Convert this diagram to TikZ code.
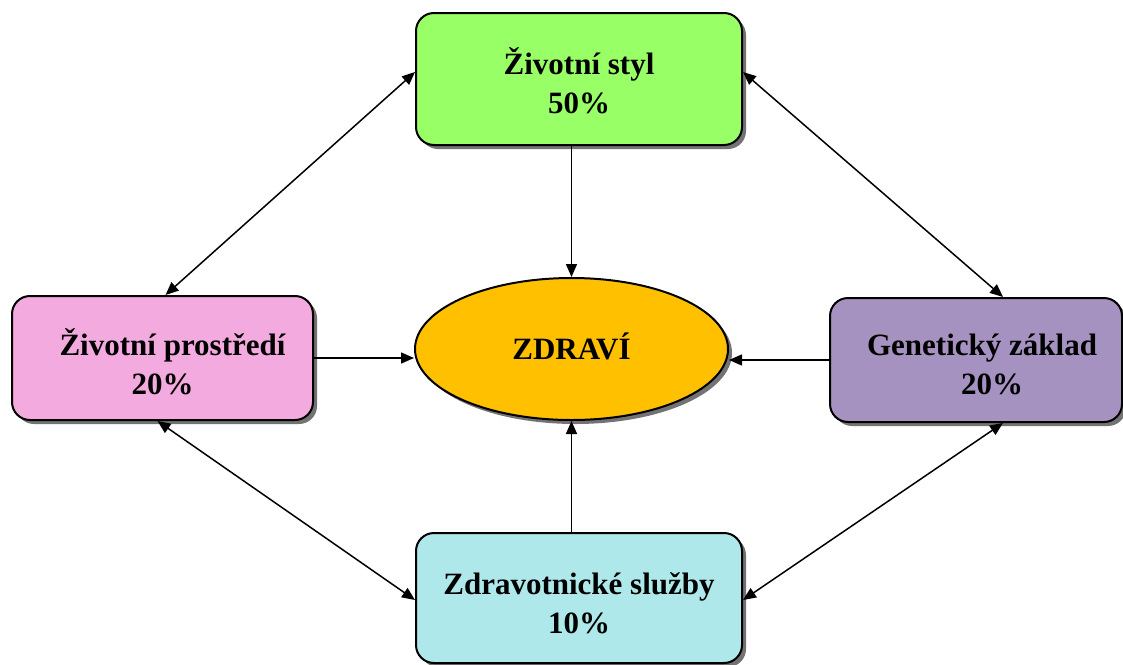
\documentclass[tikz,border=0pt]{standalone}
\usepackage{fontspec}
\setmainfont{Liberation Serif}
\usetikzlibrary{arrows.meta,shadows,calc,shapes.geometric}
\definecolor{cgreen}{RGB}{153,255,102}
\definecolor{cpink}{RGB}{243,170,222}
\definecolor{corange}{RGB}{255,192,0}
\definecolor{cpurple}{RGB}{165,146,192}
\definecolor{ccyan}{RGB}{174,232,234}
\begin{document}
\begin{tikzpicture}[x=1pt,y=-1pt,
  shape base/.style={draw=black, line width=2pt, inner sep=0pt,
    drop shadow={shadow xshift=4pt, shadow yshift=-4pt, fill=black!55, opacity=1}},
  box/.style={shape base, rectangle, rounded corners=18pt},
  ell/.style={shape base, ellipse},
  txt/.style={font=\bfseries\fontsize{31}{39}\selectfont, align=center, inner sep=0pt},
  arr/.style={line width=1.5pt, -{Triangle[length=13pt,width=11pt]}},
  darr/.style={line width=1.5pt, {Triangle[length=13pt,width=11pt]}-{Triangle[length=13pt,width=11pt]}}]
\useasboundingbox (0,0) rectangle (1123,664);
\node[box, fill=cgreen, minimum width=326pt, minimum height=132pt] (T) at (579,79) {};
\node[box, fill=cpink, minimum width=301pt, minimum height=124pt] (L) at (162.5,358) {};
\node[ell, fill=corange, minimum width=313pt, minimum height=142pt] (E) at (571.5,349) {};
\node[box, fill=cpurple, minimum width=292pt, minimum height=124pt] (R) at (976,360) {};
\node[box, fill=ccyan, minimum width=326pt, minimum height=130pt] (B) at (579,598) {};
\node[txt] (Tt) at ([yshift=-2pt]T.center) {Životní styl\\50\%};
\node[txt] (Lt) at ([yshift=-4pt]L.center) {\hspace*{20pt}Životní prostředí\\20\%};
\node[txt] (Et) at ([yshift=3pt]E.center) {ZDRAVÍ};
\node[txt] (Rt) at ([yshift=-4pt]R.center) {\hspace*{12pt}Genetický základ\\\hspace*{32pt}20\%};
\node[txt] (Bt) at ([yshift=-5pt]B.center) {Zdravotnické služby\\10\%};
\draw[arr] (T.south -| E.north) -- (E.north);
\draw[arr] (B.north -| E.south) -- (E.south);
\draw[arr] (L.east) -- (L.east -| E.west);
\draw[arr] (R.west) -- (R.west -| E.east);
\draw[darr] ([yshift=7pt]T.west) -- ([xshift=3pt]L.north);
\draw[darr] ([yshift=7pt]T.east) -- ([xshift=27pt]R.north);
\draw[darr] ([xshift=-5pt]L.south) -- ([yshift=-2pt]B.west);
\draw[darr] ([xshift=27pt]R.south) -- ([yshift=-2pt]B.east);
\end{tikzpicture}
\end{document}
